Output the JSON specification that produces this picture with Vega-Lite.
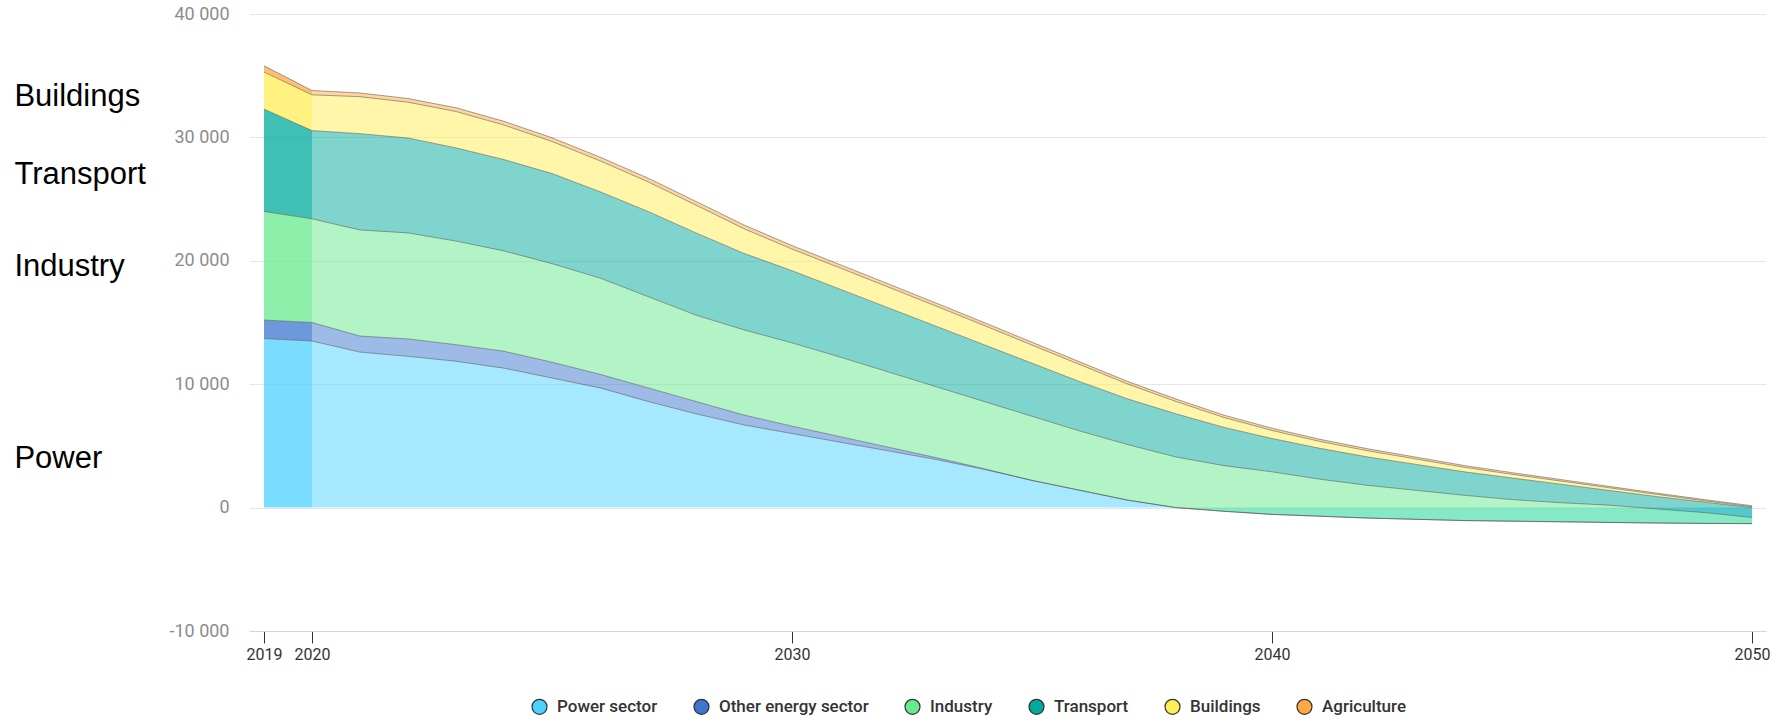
{
  "$schema": "https://vega.github.io/schema/vega-lite/v6.json",
  "width": 1517,
  "height": 617,
  "autosize": {"type": "none"},
  "padding": {"left": 249, "top": 14, "right": 6, "bottom": 89},
  "background": "white",
  "config": {"view": {"stroke": null}},
  "layer": [
    {
      "data": {"values": [
        {"year": 2019, "Power sector": 13700, "Other energy sector": 1500, "Industry": 8800, "Transport": 8300, "Buildings": 3000, "Agriculture": 500},
        {"year": 2020, "Power sector": 13500, "Other energy sector": 1500, "Industry": 8400, "Transport": 7150, "Buildings": 2900, "Agriculture": 350},
        {"year": 2021, "Power sector": 12600, "Other energy sector": 1300, "Industry": 8600, "Transport": 7800, "Buildings": 3000, "Agriculture": 300},
        {"year": 2022, "Power sector": 12260, "Other energy sector": 1410, "Industry": 8590, "Transport": 7690, "Buildings": 2900, "Agriculture": 300},
        {"year": 2023, "Power sector": 11860, "Other energy sector": 1340, "Industry": 8400, "Transport": 7550, "Buildings": 2950, "Agriculture": 300},
        {"year": 2024, "Power sector": 11300, "Other energy sector": 1370, "Industry": 8130, "Transport": 7400, "Buildings": 2800, "Agriculture": 300},
        {"year": 2025, "Power sector": 10500, "Other energy sector": 1280, "Industry": 7990, "Transport": 7300, "Buildings": 2600, "Agriculture": 300},
        {"year": 2026, "Power sector": 9700, "Other energy sector": 1100, "Industry": 7800, "Transport": 7000, "Buildings": 2500, "Agriculture": 300},
        {"year": 2027, "Power sector": 8600, "Other energy sector": 1100, "Industry": 7400, "Transport": 6900, "Buildings": 2400, "Agriculture": 300},
        {"year": 2028, "Power sector": 7600, "Other energy sector": 1000, "Industry": 7000, "Transport": 6660, "Buildings": 2250, "Agriculture": 300},
        {"year": 2029, "Power sector": 6700, "Other energy sector": 800, "Industry": 6900, "Transport": 6200, "Buildings": 2000, "Agriculture": 300},
        {"year": 2030, "Power sector": 6000, "Other energy sector": 600, "Industry": 6750, "Transport": 5850, "Buildings": 1750, "Agriculture": 280},
        {"year": 2031, "Power sector": 5300, "Other energy sector": 450, "Industry": 6450, "Transport": 5500, "Buildings": 1720, "Agriculture": 270},
        {"year": 2032, "Power sector": 4600, "Other energy sector": 300, "Industry": 6100, "Transport": 5200, "Buildings": 1680, "Agriculture": 260},
        {"year": 2033, "Power sector": 3900, "Other energy sector": 150, "Industry": 5750, "Transport": 4900, "Buildings": 1630, "Agriculture": 250},
        {"year": 2034, "Power sector": 3100, "Other energy sector": 50, "Industry": 5450, "Transport": 4600, "Buildings": 1560, "Agriculture": 240},
        {"year": 2035, "Power sector": 2200, "Other energy sector": 0, "Industry": 5200, "Transport": 4300, "Buildings": 1470, "Agriculture": 230},
        {"year": 2036, "Power sector": 1400, "Other energy sector": 0, "Industry": 4800, "Transport": 4000, "Buildings": 1380, "Agriculture": 220},
        {"year": 2037, "Power sector": 600, "Other energy sector": 0, "Industry": 4500, "Transport": 3700, "Buildings": 1200, "Agriculture": 210},
        {"year": 2038, "Power sector": 0, "Other energy sector": 0, "Industry": 4100, "Transport": 3500, "Buildings": 1000, "Agriculture": 200},
        {"year": 2039, "Power sector": -300, "Other energy sector": 0, "Industry": 3700, "Transport": 3100, "Buildings": 800, "Agriculture": 190},
        {"year": 2040, "Power sector": -550, "Other energy sector": 0, "Industry": 3450, "Transport": 2700, "Buildings": 650, "Agriculture": 180},
        {"year": 2041, "Power sector": -700, "Other energy sector": 0, "Industry": 3000, "Transport": 2500, "Buildings": 560, "Agriculture": 170},
        {"year": 2042, "Power sector": -850, "Other energy sector": 0, "Industry": 2650, "Transport": 2300, "Buildings": 500, "Agriculture": 160},
        {"year": 2043, "Power sector": -950, "Other energy sector": 0, "Industry": 2350, "Transport": 2100, "Buildings": 440, "Agriculture": 150},
        {"year": 2044, "Power sector": -1050, "Other energy sector": 0, "Industry": 2050, "Transport": 1900, "Buildings": 370, "Agriculture": 140},
        {"year": 2045, "Power sector": -1100, "Other energy sector": 0, "Industry": 1750, "Transport": 1750, "Buildings": 300, "Agriculture": 130},
        {"year": 2046, "Power sector": -1150, "Other energy sector": 0, "Industry": 1550, "Transport": 1500, "Buildings": 260, "Agriculture": 120},
        {"year": 2047, "Power sector": -1200, "Other energy sector": 0, "Industry": 1400, "Transport": 1200, "Buildings": 220, "Agriculture": 110},
        {"year": 2048, "Power sector": -1250, "Other energy sector": 0, "Industry": 1150, "Transport": 1000, "Buildings": 180, "Agriculture": 100},
        {"year": 2049, "Power sector": -1280, "Other energy sector": 0, "Industry": 880, "Transport": 850, "Buildings": 110, "Agriculture": 90},
        {"year": 2050, "Power sector": -1300, "Other energy sector": 0, "Industry": 500, "Transport": 800, "Buildings": 70, "Agriculture": 80}
      ]},
      "transform": [
        {"fold": ["Power sector", "Other energy sector", "Industry", "Transport", "Buildings", "Agriculture"], "as": ["sector", "value"]},
        {"window": [{"op": "sum", "field": "value", "as": "top"}], "groupby": ["year"], "frame": [null, 0]},
        {"window": [{"op": "sum", "field": "value", "as": "base"}], "groupby": ["year"], "frame": [null, -1]}
      ],
      "encoding": {
        "x": {
          "field": "year", "type": "quantitative",
          "scale": {"domain": [2018.6875, 2050.29], "nice": false, "zero": false},
          "axis": {
            "title": null, "values": [2019, 2020, 2030, 2040, 2050], "format": "d", "grid": false,
            "domainColor": "#ccd6eb", "domainWidth": 1, "tickColor": "#333333", "tickSize": 12, "tickWidth": 1,
            "labelFont": "Roboto", "labelFontSize": 16, "labelColor": "#333333", "labelPadding": 3
          }
        },
        "y": {
          "field": "top", "type": "quantitative",
          "scale": {"domain": [-10000, 40000], "nice": false, "zero": false},
          "axis": {
            "title": null, "values": [-10000, 0, 10000, 20000, 30000, 40000],
            "labelExpr": "replace(replace(format(datum.value, ','), ',', ' '), '\u2212', '-')",
            "domain": false, "ticks": false, "grid": true, "gridColor": "#e6e6e6", "gridWidth": 1,
            "labelFont": "Roboto", "labelFontSize": 18, "labelColor": "#8c8c8c", "labelPadding": 20
          }
        },
        "color": {
          "field": "sector", "type": "nominal",
          "scale": {
            "domain": ["Power sector", "Other energy sector", "Industry", "Transport", "Buildings", "Agriculture"],
            "range": ["#4dd2fe", "#3d75d0", "#66ea8e", "#00a99c", "#ffee55", "#ffa940"]
          },
          "legend": {
            "orient": "none", "legendX": 282, "legendY": 684, "direction": "horizontal", "title": null,
            "symbolType": "circle", "symbolSize": 225, "symbolStrokeColor": "#333333", "symbolStrokeWidth": 1.2,
            "symbolOpacity": 1, "labelFont": "Roboto", "labelFontSize": 17, "labelFontWeight": 500,
            "labelColor": "#333333", "labelOffset": 9, "columnPadding": 33, "padding": 0, "labelLimit": 400,
            "encode": {"symbols": {
              "enter": {"stroke": {"value": "#333333"}, "strokeWidth": {"value": 1.2}},
              "update": {"opacity": {"value": 1}, "fillOpacity": {"value": 1}, "stroke": {"value": "#333333"}, "strokeWidth": {"value": 1.2}, "strokeOpacity": {"value": 1}}
            }}
          }
        }
      },
      "layer": [
        {
          "transform": [{"filter": "datum.year <= 2020 && datum.sector == 'Power sector'"}],
          "mark": {"type": "area", "opacity": 0.75},
          "encoding": {"y2": {"datum": 0}}
        },
        {
          "transform": [{"filter": "datum.year <= 2020 && datum.sector != 'Power sector'"}],
          "mark": {"type": "area", "opacity": 0.75},
          "encoding": {"y2": {"field": "base"}}
        },
        {
          "transform": [{"filter": "datum.year >= 2020 && datum.sector == 'Power sector'"}],
          "mark": {"type": "area", "opacity": 0.5},
          "encoding": {"y2": {"datum": 0}}
        },
        {
          "transform": [{"filter": "datum.year >= 2020 && datum.sector != 'Power sector'"}],
          "mark": {"type": "area", "opacity": 0.5},
          "encoding": {"y2": {"field": "base"}}
        },
        {
          "mark": {"type": "line", "strokeWidth": 1, "opacity": 0.55},
          "encoding": {"color": {"value": "#555555"}, "detail": {"field": "sector", "type": "nominal"}}
        }
      ]
    },
    {
      "data": {"values": [
        {"label": "Buildings", "year": 2013.8, "value": 32580},
        {"label": "Transport", "year": 2013.8, "value": 26260},
        {"label": "Industry", "year": 2013.8, "value": 18800},
        {"label": "Power", "year": 2013.8, "value": 3240}
      ]},
      "mark": {"type": "text", "align": "left", "baseline": "alphabetic", "font": "Liberation Sans", "fontSize": 31, "color": "#000000"},
      "encoding": {
        "x": {"field": "year", "type": "quantitative"},
        "y": {"field": "value", "type": "quantitative"},
        "text": {"field": "label"}
      }
    }
  ]
}
